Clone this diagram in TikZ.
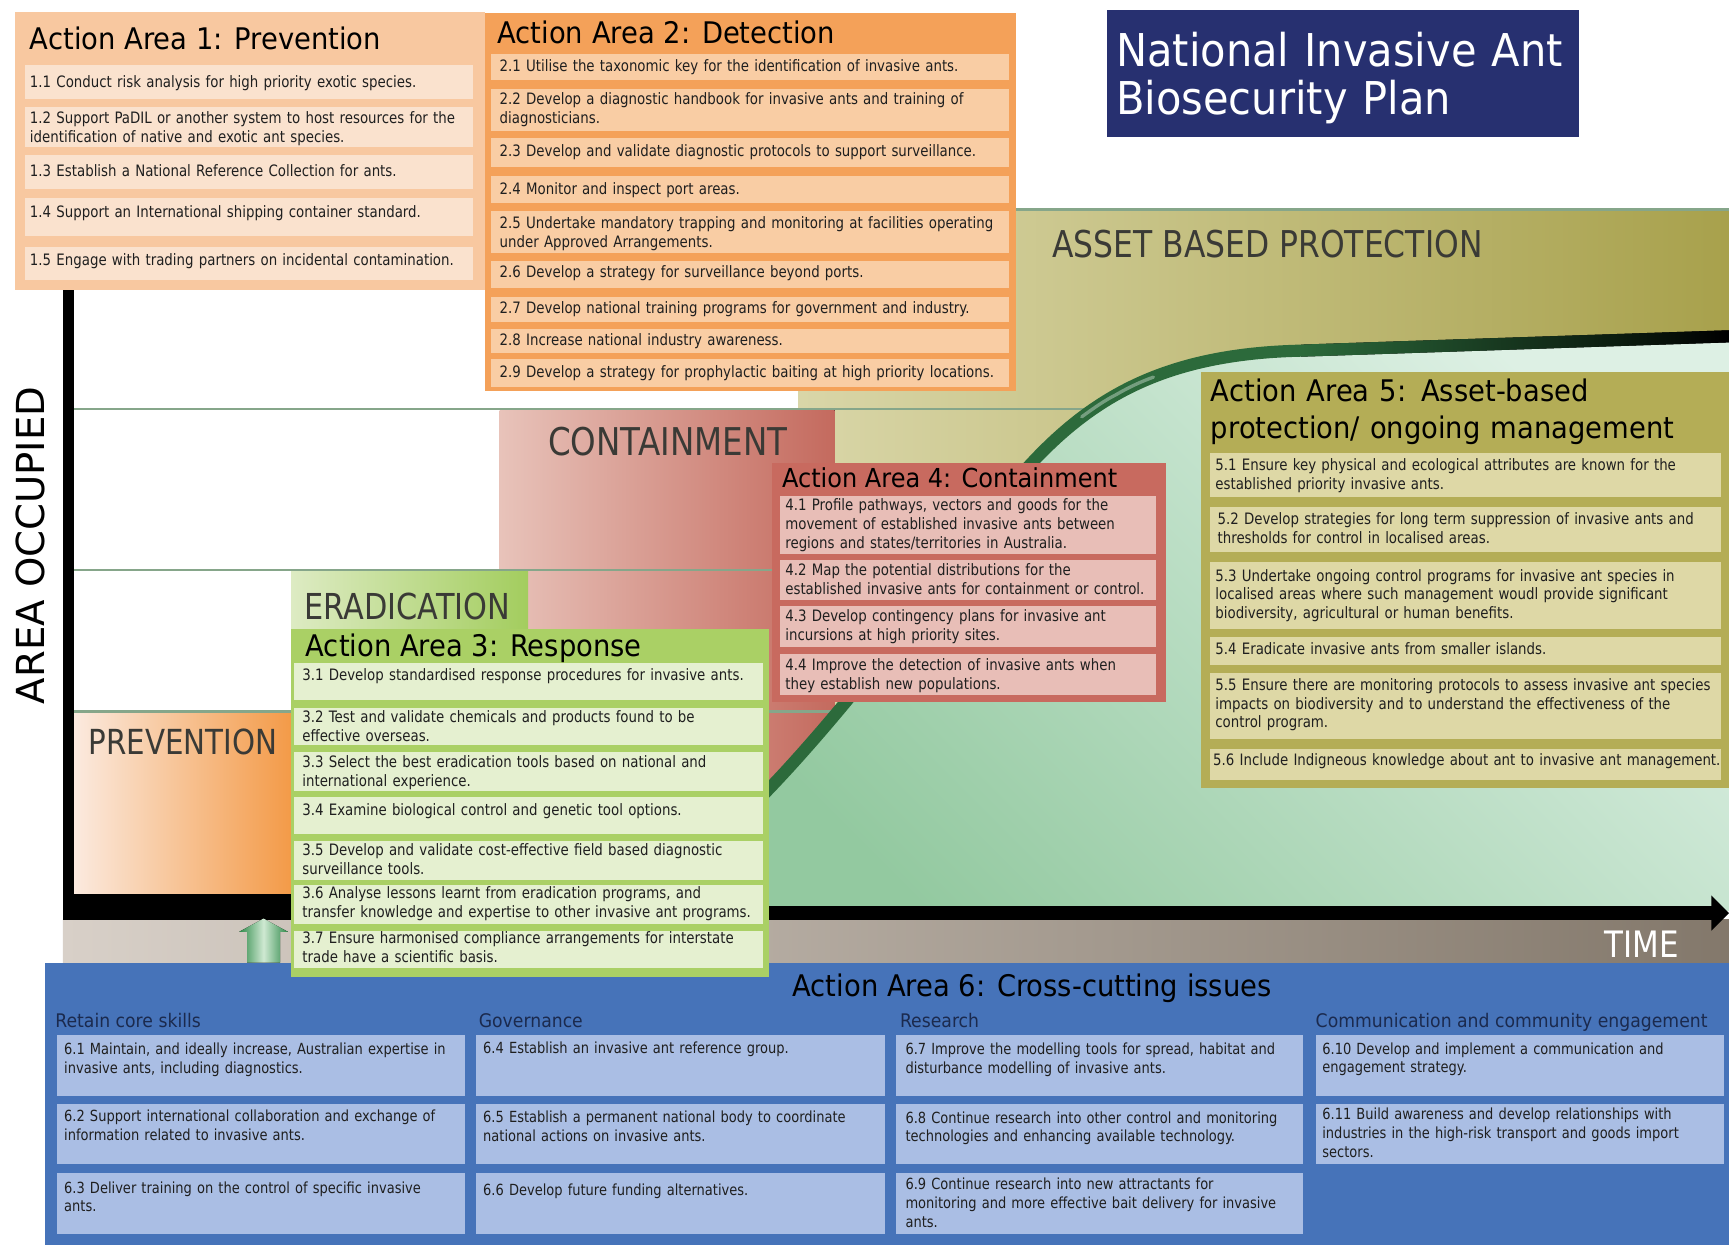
\documentclass[tikz,border=0pt]{standalone}
\usepackage{fontspec}
\setmainfont{DejaVu Sans}
\newfontfamily\cf[FakeStretch=0.85]{DejaVu Sans}
\newfontfamily\tf[FakeStretch=0.92]{DejaVu Sans}
\definecolor{aaOneBg}{HTML}{F8C8A0}
\definecolor{aaOneIt}{HTML}{FAE2CE}
\definecolor{aaTwoBg}{HTML}{F4A159}
\definecolor{aaTwoIt}{HTML}{F9CDA4}
\definecolor{aaThrBg}{HTML}{AAD065}
\definecolor{aaThrIt}{HTML}{E5F0D0}
\definecolor{aaFouBg}{HTML}{C86A5F}
\definecolor{aaFouIt}{HTML}{E8BEB7}
\definecolor{aaFivBg}{HTML}{B4AD56}
\definecolor{aaFivIt}{HTML}{DED8A6}
\definecolor{aaSixBg}{HTML}{4673B9}
\definecolor{aaSixIt}{HTML}{AABEE4}
\definecolor{navy}{HTML}{273070}
\definecolor{lblgray}{HTML}{3A3A36}
\definecolor{gridgreen}{HTML}{86A68A}
\definecolor{curvegreen}{HTML}{2C6A3B}
\definecolor{hdrblue}{HTML}{1B2A4E}
\definecolor{olvL}{HTML}{D9D6A8}
\definecolor{olvR}{HTML}{A8A14C}
\definecolor{conL}{HTML}{E8C3BA}
\definecolor{conR}{HTML}{C46A5E}
\definecolor{eraL}{HTML}{DDEBC3}
\definecolor{eraR}{HTML}{A3CD5E}
\definecolor{preL}{HTML}{FBEADF}
\definecolor{preR}{HTML}{F39A47}
\definecolor{mintL}{HTML}{93C9A0}
\definecolor{mintR}{HTML}{DDF0E4}
\definecolor{bandL}{HTML}{D8D0C8}
\definecolor{bandR}{HTML}{83786B}
\definecolor{arrG}{HTML}{2F8A4A}
\definecolor{arrL}{HTML}{CFE9D2}
\tikzset{
  itxt/.style={anchor=base west, inner sep=0pt, align=left, text width=600pt,
    font=\cf\fontsize{14.25}{17}\selectfont, text=black!88},
  ttl/.style={anchor=base west, inner sep=0pt, font=\tf\fontsize{27}{34}\selectfont, text=black},
  stg/.style={anchor=west, inner sep=0pt, text=lblgray},
  hdr/.style={anchor=base west, inner sep=0pt, font=\tf\fontsize{17}{20}\selectfont, text=hdrblue},
}
\newcommand\itm[9]{\fill[#1] (#3,#4) rectangle (#5,#6); \node[itxt] (#2) at (#7,#8) {#9};}
\begin{document}
\begin{tikzpicture}[x=1pt,y=-1pt]
\useasboundingbox (0,0) rectangle (1568,1129);
\fill[white] (0,0) rectangle (1568,1129);
% stage regions
\fill[left color=olvL, right color=olvR] (724,190) rectangle (1568,826);
\draw[gridgreen, line width=2pt] (921,190) -- (1568,190);
\fill[left color=conL, right color=conR] (453,372) rectangle (757,826);
\fill[left color=eraL, right color=eraR] (264,517) rectangle (479,575);
\fill[left color=preL, right color=preR] (67,645) rectangle (265,811);
\foreach \yy in {371,517,645} \draw[gridgreen, line width=2.5pt] (67,\yy) -- (1568,\yy);
% area under curve
\fill[top color=mintR, bottom color=mintL, shading angle=-45] (620,826) -- (650,760)
  .. controls (710,712) and (810,586) .. (850,530)
  .. controls (940,404) and (1000,322) .. (1180,318) -- (1568,305) -- (1568,826) -- cycle;
\draw[curvegreen, line width=11pt] (650,760) .. controls (710,712) and (810,586) .. (850,530)
  .. controls (940,404) and (1000,322) .. (1180,318);
\fill[left color=curvegreen, right color=black] (1180,312.5) -- (1568,299.5) -- (1568,310.5) -- (1180,323.5) -- cycle;
\draw[white, opacity=0.35, line width=3pt, line cap=round] (981,378) .. controls (992,370) and (1002,363) .. (1012,358) .. controls (1024,351) and (1035,346) .. (1046,342);
% band below axis
\fill[left color=bandL, right color=bandR] (57,834) rectangle (1568,873);
% axes
\fill[black] (57,263) rectangle (67,834);
\fill[black] (57,811) rectangle (265,834);
\fill[black] (57,822) rectangle (1554,834);
\fill[black] (1552,812) -- (1568,828) -- (1552,844) -- cycle;
% green arrow
\fill[left color=arrG, right color=arrG, middle color=arrL] (224,873) -- (224,845) -- (217,845) -- (239,833) -- (261,845) -- (254,845) -- (254,873) -- cycle;
% stage labels
\node[stg, font=\cf\fontsize{31.3}{34}\selectfont] (lprev) at (80,672.5) {PREVENTION};
\node[stg, font=\cf\fontsize{32.4}{34}\selectfont] (lerad) at (276,550) {ERADICATION};
\node[stg, font=\cf\fontsize{34.7}{36}\selectfont] (lcont) at (497,400) {CONTAINMENT};
\node[stg, font=\cf\fontsize{33.5}{36}\selectfont] (lasset) at (954,221) {ASSET BASED PROTECTION};
\node[stg, font=\cf\fontsize{33}{36}\selectfont, text=white] (ltime) at (1455,856) {TIME};
\node[rotate=90, inner sep=0pt, font=\fontsize{35}{35}\selectfont] (lyax) at (28,494.6) {AREA OCCUPIED};
% AA6
\fill[aaSixBg] (41,873) rectangle (1568,1129);
\node[ttl, anchor=base] (t6) at (936,904) {Action Area 6: Cross-cutting issues};
\node[hdr] (h61) at (50,931.5) {Retain core skills};
\node[hdr] (h62) at (434,931.5) {Governance};
\node[hdr] (h63) at (816,931.5) {Research};
\node[hdr] (h64) at (1193,931.5) {Communication and community engagement};
\begin{scope}[itxt/.append style={font=\cf\fontsize{13.9}{17}\selectfont}]
\itm{aaSixIt}{i61}{52}{939}{422}{994}{58}{956.5}{6.1 Maintain, and ideally increase, Australian expertise in\\invasive ants, including diagnostics.}
\itm{aaSixIt}{i62}{52}{1001}{422}{1056}{58}{1017}{6.2 Support international collaboration and exchange of\\information related to invasive ants.}
\itm{aaSixIt}{i63}{52}{1064}{422}{1119}{58}{1082}{6.3 Deliver training on the control of specific invasive\\ants.}
\itm{aaSixIt}{i64}{432}{939}{803}{994}{438}{955}{6.4 Establish an invasive ant reference group.}
\itm{aaSixIt}{i65}{432}{1001}{803}{1056}{438}{1018}{6.5 Establish a permanent national body to coordinate\\national actions on invasive ants.}
\itm{aaSixIt}{i66}{432}{1064}{803}{1119}{438}{1084.5}{6.6 Develop future funding alternatives.}
\itm{aaSixIt}{i67}{813}{939}{1182}{994}{821}{956.5}{6.7 Improve the modelling tools for spread, habitat and\\disturbance modelling of invasive ants.}
\itm{aaSixIt}{i68}{813}{1001}{1182}{1056}{821}{1018.5}{6.8 Continue research into other control and monitoring\\technologies and enhancing available technology.}
\itm{aaSixIt}{i69}{813}{1064}{1182}{1119}{821}{1079}{6.9 Continue research into new attractants for\\monitoring and more effective bait delivery for invasive\\ants.}
\itm{aaSixIt}{i610}{1193}{939}{1563}{994}{1199}{956}{6.10 Develop and implement a communication and\\engagement strategy.}
\itm{aaSixIt}{i611}{1193}{1001}{1563}{1056}{1199}{1015.5}{6.11 Build awareness and develop relationships with\\industries in the high-risk transport and goods import\\sectors.}
\end{scope}
% AA1
\fill[aaOneBg] (14,11) rectangle (440,263);
\node[ttl] (t1) at (27,45) {Action Area 1: Prevention};
\itm{aaOneIt}{i11}{23}{59}{429}{90}{27}{79}{1.1 Conduct risk analysis for high priority exotic species.}
\itm{aaOneIt}{i12}{23}{97}{429}{133}{27}{112}{1.2 Support PaDIL or another system to host resources for the\\identification of native and exotic ant species.}
\itm{aaOneIt}{i13}{23}{141}{429}{171}{27}{160.5}{1.3 Establish a National Reference Collection for ants.}
\itm{aaOneIt}{i14}{23}{180}{429}{214}{27}{197}{1.4 Support an International shipping container standard.}
\itm{aaOneIt}{i15}{23}{224}{429}{254}{27}{240.5}{1.5 Engage with trading partners on incidental contamination.}
% AA2
\fill[aaTwoBg] (440,12) rectangle (921,355);
\node[ttl] (t2) at (451,39) {Action Area 2: Detection};
\itm{aaTwoIt}{i21}{445}{49}{915}{73}{453}{65}{2.1 Utilise the taxonomic key for the identification of invasive ants.}
\itm{aaTwoIt}{i22}{445}{81}{915}{119}{453}{95}{2.2 Develop a diagnostic handbook for invasive ants and training of\\diagnosticians.}
\itm{aaTwoIt}{i23}{445}{125}{915}{151}{453}{142}{2.3 Develop and validate diagnostic protocols to support surveillance.}
\itm{aaTwoIt}{i24}{445}{160}{915}{184}{453}{176}{2.4 Monitor and inspect port areas.}
\itm{aaTwoIt}{i25}{445}{191}{915}{229}{453}{207}{2.5 Undertake mandatory trapping and monitoring at facilities operating\\under Approved Arrangements.}
\itm{aaTwoIt}{i26}{445}{237}{915}{261}{453}{252}{2.6 Develop a strategy for surveillance beyond ports.}
\itm{aaTwoIt}{i27}{445}{269}{915}{292}{453}{284.5}{2.7 Develop national training programs for government and industry.}
\itm{aaTwoIt}{i28}{445}{298}{915}{320}{453}{313}{2.8 Increase national industry awareness.}
\itm{aaTwoIt}{i29}{445}{326}{915}{351}{453}{342}{2.9 Develop a strategy for prophylactic baiting at high priority locations.}
% title box
\fill[navy] (1004,9) rectangle (1432,124);
\node[anchor=base west, inner sep=0pt, align=left, text width=420pt, font=\tf\fontsize{41}{44}\selectfont, text=white] (maintitle) at (1012,60) {National Invasive Ant\\Biosecurity Plan};
% AA4
\fill[aaFouBg] (700,420) rectangle (1057,637);
\node[ttl, font=\tf\fontsize{23.7}{28}\selectfont] (t4) at (709,442) {Action Area 4: Containment};
\itm{aaFouIt}{i41}{707}{450}{1048}{502}{712}{463}{4.1 Profile pathways, vectors and goods for the\\movement of established invasive ants between\\regions and states/territories in Australia.}
\itm{aaFouIt}{i42}{707}{508}{1048}{544}{712}{522}{4.2 Map the potential distributions for the\\established invasive ants for containment or control.}
\itm{aaFouIt}{i43}{707}{550}{1048}{587}{712}{564}{4.3 Develop contingency plans for invasive ant\\incursions at high priority sites.}
\itm{aaFouIt}{i44}{707}{593}{1048}{630}{712}{608}{4.4 Improve the detection of invasive ants when\\they establish new populations.}
% AA5
\fill[aaFivBg] (1089,337) rectangle (1568,715);
\node[ttl, align=left, text width=470pt] (t5) at (1098,364) {Action Area 5: Asset-based\\protection/ ongoing management};
\itm{aaFivIt}{i51}{1097}{411}{1561}{451}{1102}{427}{5.1 Ensure key physical and ecological attributes are known for the\\established priority invasive ants.}
\itm{aaFivIt}{i52}{1097}{460}{1561}{501}{1104}{476}{5.2 Develop strategies for long term suppression of invasive ants and\\thresholds for control in localised areas.}
\itm{aaFivIt}{i53}{1097}{510}{1561}{570}{1102}{527}{5.3 Undertake ongoing control programs for invasive ant species in\\localised areas where such management woudl provide significant\\biodiversity, agricultural or human benefits.}
\itm{aaFivIt}{i54}{1097}{578}{1561}{603}{1102}{594}{5.4 Eradicate invasive ants from smaller islands.}
\itm{aaFivIt}{i55}{1097}{610}{1561}{670}{1102}{626}{5.5 Ensure there are monitoring protocols to assess invasive ant species\\impacts on biodiversity and to understand the effectiveness of the\\control program.}
\itm{aaFivIt}{i56}{1097}{679}{1561}{707}{1100}{694}{5.6 Include Indigneous knowledge about ant to invasive ant management.}
% AA3
\fill[aaThrBg] (264,570) rectangle (697,886);
\node[ttl] (t3) at (277,595.5) {Action Area 3: Response};
\itm{aaThrIt}{i31}{267}{601}{692}{635}{274}{617}{3.1 Develop standardised response procedures for invasive ants.}
\itm{aaThrIt}{i32}{267}{642}{692}{676}{274}{655}{3.2 Test and validate chemicals and products found to be\\effective overseas.}
\itm{aaThrIt}{i33}{267}{682}{692}{717}{274}{696}{3.3 Select the best eradication tools based on national and\\international experience.}
\itm{aaThrIt}{i34}{267}{723}{692}{756}{274}{740}{3.4 Examine biological control and genetic tool options.}
\itm{aaThrIt}{i35}{267}{763}{692}{798}{274}{776}{3.5 Develop and validate cost-effective field based diagnostic\\surveillance tools.}
\itm{aaThrIt}{i36}{267}{803}{692}{838}{274}{815}{3.6 Analyse lessons learnt from eradication programs, and\\transfer knowledge and expertise to other invasive ant programs.}
\itm{aaThrIt}{i37}{267}{844}{692}{878}{274}{856}{3.7 Ensure harmonised compliance arrangements for interstate\\trade have a scientific basis.}
\end{tikzpicture}
\end{document}
